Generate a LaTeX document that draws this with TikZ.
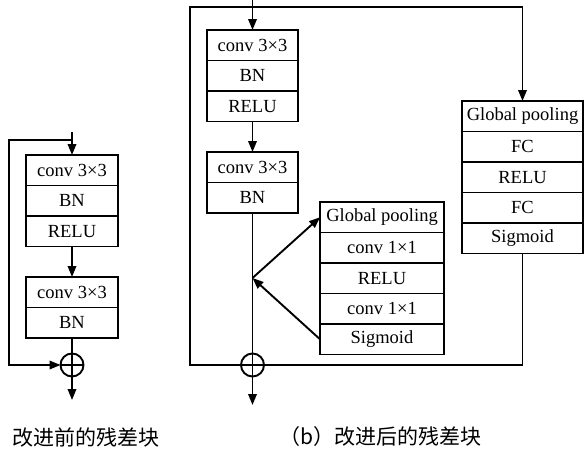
\documentclass[tikz,border=0pt]{standalone}
\usepackage{fontspec}
\setmainfont{Liberation Serif}
\newfontfamily\cellfont{Liberation Serif}
\newfontfamily\cjk{Noto Sans CJK SC}
\usetikzlibrary{positioning,arrows.meta}
\tikzset{
  cell/.style={draw, line width=1.9pt, minimum height=30.5pt, inner sep=0pt,
    outer sep=0pt, font=\cellfont\fontsize{18.5}{20}\selectfont},
  sum/.style={draw, circle, line width=1.9pt, minimum size=23pt, inner sep=0pt,
    outer sep=0pt, path picture={
      \draw[line width=1.9pt] (path picture bounding box.north) -- (path picture bounding box.south)
        (path picture bounding box.west) -- (path picture bounding box.east);}},
  wire/.style={line width=1.9pt},
  flow/.style={wire, -{Triangle[length=11pt,width=8.5pt]}},
  caption/.style={inner sep=0pt, font=\cjk\fontsize{21}{24}\selectfont},
}
\begin{document}
\begin{tikzpicture}[x=1pt,y=-1pt]
  \useasboundingbox (0,0) rectangle (585,450);

  % residual block before (left)
  \node[cell, minimum width=92pt] (a1) at (72,170.25) {conv 3×3};
  \node[cell, minimum width=92pt, below=0pt of a1] (a2) {BN};
  \node[cell, minimum width=92pt, below=0pt of a2] (a3) {RELU};
  \node[cell, minimum width=92pt] (a4) at (72,292.25) {conv 3×3};
  \node[cell, minimum width=92pt, below=0pt of a4] (a5) {BN};
  \node[sum] (asum) at (72,365) {};
  \coordinate (ain) at (72,132);
  \coordinate (asplit) at (72,140);
  \coordinate (acorner) at (9,365);
  \coordinate (aout) at (72,400);
  \draw[flow] (ain) -- (a1);
  \draw[flow] (a3) -- (a4);
  \draw[wire] (a5) -- (asum);
  \draw[flow] (asplit) -| (acorner) -- (asum);
  \draw[flow] (asum) -- (aout);
  \node[caption, anchor=west] (capa) at (12,437) {改进前的残差块};

  % residual block after (right)
  \node[cell, minimum width=91pt] (b1) at (252.5,45.25) {conv 3×3};
  \node[cell, minimum width=91pt, below=0pt of b1] (b2) {BN};
  \node[cell, minimum width=91pt, below=0pt of b2] (b3) {RELU};
  \node[cell, minimum width=91pt] (b4) at (252.5,167.25) {conv 3×3};
  \node[cell, minimum width=91pt, below=0pt of b4] (b5) {BN};
  \node[sum] (bsum) at (252.5,365) {};

  % spatial branch
  \node[cell, minimum width=124pt] (c1) at (382,217.25) {Global pooling};
  \node[cell, minimum width=124pt, below=0pt of c1] (c2) {conv 1×1};
  \node[cell, minimum width=124pt, below=0pt of c2] (c3) {RELU};
  \node[cell, minimum width=124pt, below=0pt of c3] (c4) {conv 1×1};
  \node[cell, minimum width=124pt, below=0pt of c4] (c5) {Sigmoid};

  % channel branch
  \node[cell, minimum width=121pt] (d1) at (522.5,116.25) {Global pooling};
  \node[cell, minimum width=121pt, below=0pt of d1] (d2) {FC};
  \node[cell, minimum width=121pt, below=0pt of d2] (d3) {RELU};
  \node[cell, minimum width=121pt, below=0pt of d3] (d4) {FC};
  \node[cell, minimum width=121pt, below=0pt of d4] (d5) {Sigmoid};

  \coordinate (bin) at (252.5,0);
  \coordinate (bsplit) at (252.5,7);
  \coordinate (bcorner) at (190,365);
  \coordinate (bbranch) at (252.5,278);
  \coordinate (bout) at (252.5,405);
  \draw[flow] (bin) -- (b1);
  \draw[flow] (b3) -- (b4);
  \draw[wire] (b5) -- (bsum);
  \draw[flow] (bbranch) -- (c1.west);
  \draw[flow] (c5.west) -- (bbranch);
  \draw[flow] (bsplit) -| (d1.north);
  \draw[wire] (bsplit) -| (bcorner) -- (bsum);
  \draw[wire] (bsum) -| (d5.south);
  \draw[flow] (bsum) -- (bout);
  \node[caption, anchor=east] (capb) at (482,437) {（b）改进后的残差块};
\end{tikzpicture}
\end{document}
